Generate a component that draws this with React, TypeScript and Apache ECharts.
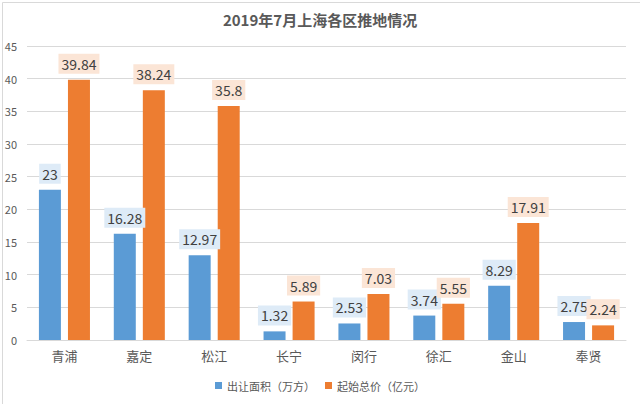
import React, { useEffect, useRef } from "react";
import * as echarts from "echarts";

const categories = ["青浦", "嘉定", "松江", "长宁", "闵行", "徐汇", "金山", "奉贤"];
const areaValues = [23, 16.28, 12.97, 1.32, 2.53, 3.74, 8.29, 2.75];
const priceValues = [39.84, 38.24, 35.8, 5.89, 7.03, 5.55, 17.91, 2.24];
const seriesNames = ["出让面积（万方）", "起始总价（亿元）"];
const titleText = "2019年7月上海各区推地情况";

const FONT = '"Noto Sans CJK SC", "Liberation Sans", sans-serif';

export default function App() {
  const ref = useRef<HTMLDivElement>(null);
  useEffect(() => {
    if (!ref.current) return;
    const chart = echarts.init(ref.current, undefined, { renderer: "svg" });
    const label = (bg: string) => ({
      show: true,
      position: "top" as const,
      distance: 6,
      color: "#404040",
      fontSize: 14,
      fontFamily: FONT,
      backgroundColor: bg,
      padding: [3, 3, 3, 3],
    });
    chart.setOption({
      animation: false,
      backgroundColor: "#ffffff",
      textStyle: { fontFamily: FONT },
      title: {
        text: titleText,
        left: "center",
        top: 7,
        textStyle: { fontSize: 15, fontWeight: "bold", color: "#595959", fontFamily: FONT },
      },
      legend: {
        bottom: 8,
        left: "center",
        itemWidth: 7,
        itemHeight: 7,
        itemGap: 10,
        icon: "rect",
        textStyle: { fontSize: 11, color: "#595959", fontFamily: FONT },
        data: seriesNames,
      },
      grid: { left: 27, right: 14, top: 46, bottom: 64, containLabel: false },
      xAxis: {
        type: "category",
        data: categories,
        axisLine: { lineStyle: { color: "#d9d9d9" } },
        axisTick: { show: false },
        axisLabel: { color: "#595959", fontSize: 13, margin: 9, fontFamily: FONT },
      },
      yAxis: {
        type: "value",
        min: 0,
        max: 45,
        interval: 5,
        axisLine: { show: false },
        axisTick: { show: false },
        axisLabel: { color: "#595959", fontSize: 11, margin: 10, fontFamily: FONT },
        splitLine: { lineStyle: { color: "#d9d9d9" } },
      },
      series: [
        {
          name: seriesNames[0],
          type: "bar",
          data: areaValues,
          barWidth: 22,
          barGap: "32%",
          itemStyle: { color: "#5B9BD5" },
          label: label("#DEEBF7"),
        },
        {
          name: seriesNames[1],
          type: "bar",
          data: priceValues,
          barWidth: 22,
          itemStyle: { color: "#ED7D31" },
          label: label("#FBE5D6"),
        },
      ],
      graphic: [
        {
          type: "rect",
          left: 0,
          top: 0,
          shape: { width: 639, height: 403 },
          style: { fill: "none", stroke: "#d9d9d9", lineWidth: 1 },
          silent: true,
        },
      ],
    });
    return () => chart.dispose();
  }, []);
  return (
    <div
      ref={ref}
      style={{ position: "absolute", left: 0, top: 0, width: 640, height: 404 }}
    />
  );
}
